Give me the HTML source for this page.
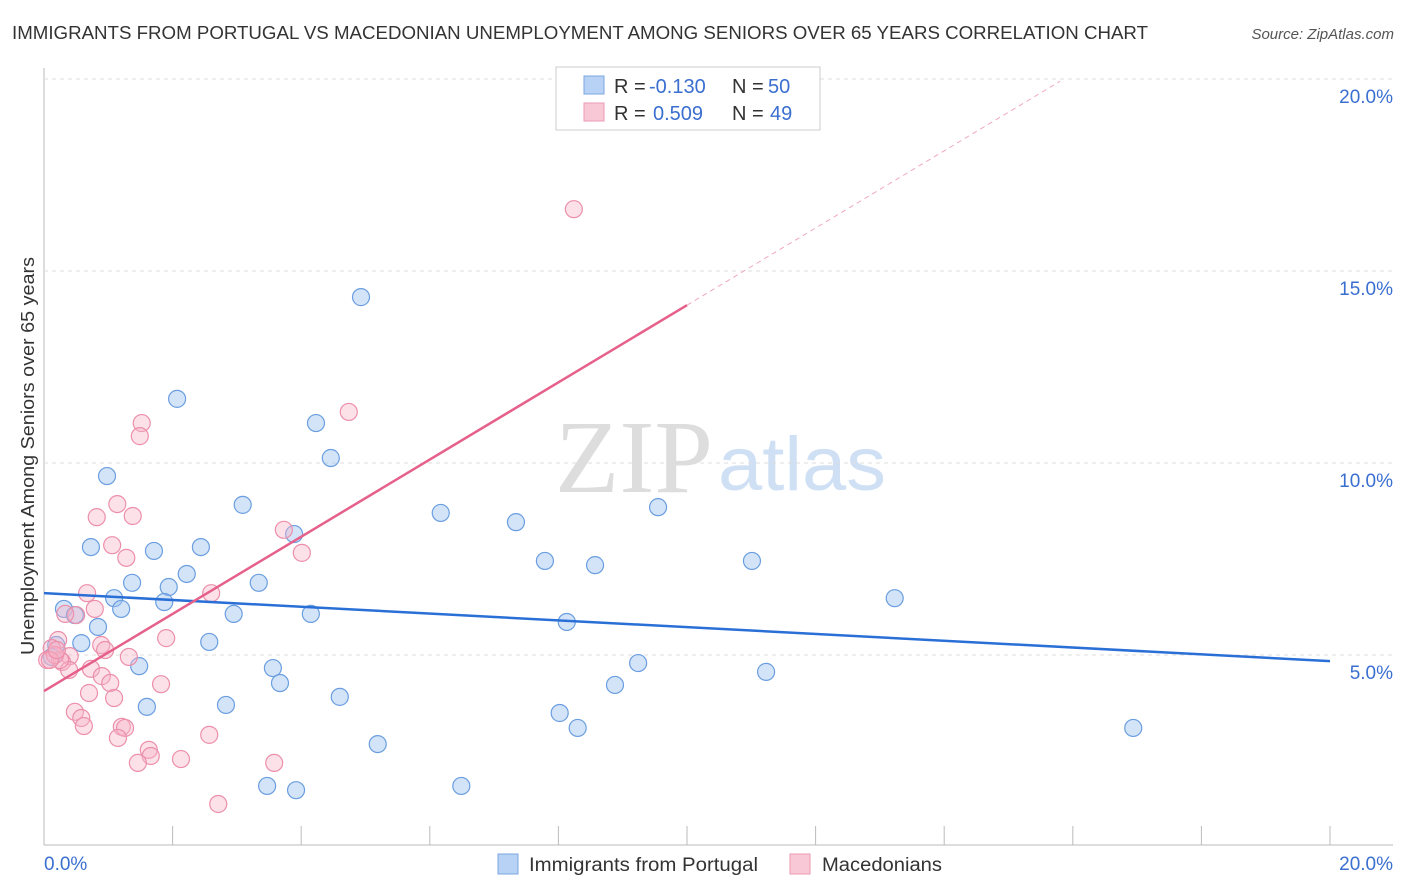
<!DOCTYPE html>
<html><head><meta charset="utf-8"><style>
body{margin:0;background:#fff;width:1406px;height:892px;overflow:hidden;font-family:"Liberation Sans",sans-serif}
svg{position:absolute;left:0;top:0}
</style></head><body>
<svg id="c" width="1406" height="892">
<text x="12" y="39" font-size="18" fill="#333" textLength="1136" lengthAdjust="spacingAndGlyphs">IMMIGRANTS FROM PORTUGAL VS MACEDONIAN UNEMPLOYMENT AMONG SENIORS OVER 65 YEARS CORRELATION CHART</text>
<text x="1394" y="39" font-size="15" fill="#555" font-style="italic" text-anchor="end">Source: ZipAtlas.com</text>
<text x="555" y="492" font-size="104" fill="#ddd" font-family="Liberation Serif,serif" textLength="158" lengthAdjust="spacingAndGlyphs">ZIP</text>
<text x="718" y="490" font-size="76" fill="#cfe0f5" textLength="168" lengthAdjust="spacingAndGlyphs">atlas</text>
<text transform="translate(34,456) rotate(-90)" font-size="18" fill="#333" text-anchor="middle" textLength="398" lengthAdjust="spacingAndGlyphs">Unemployment Among Seniors over 65 years</text>
<g id="grid"></g><g id="marks"></g>
<g>
<rect x="556" y="67" width="264" height="63" fill="#fff" stroke="#ccc"/>
<rect x="584" y="76" width="20" height="18" fill="#b8d2f5" stroke="#7aa6e0"/>
<rect x="584" y="103" width="20" height="18" fill="#f9c8d7" stroke="#ec9ab2"/>
<text x="614" y="93" font-size="20" fill="#333">R =</text>
<text x="649" y="93" font-size="20" fill="#3a6fd0">-0.130</text>
<text x="732" y="93" font-size="20" fill="#333">N =</text>
<text x="768" y="93" font-size="20" fill="#3a6fd0">50</text>
<text x="614" y="120" font-size="20" fill="#333">R =</text>
<text x="653" y="120" font-size="20" fill="#3a6fd0">0.509</text>
<text x="732" y="120" font-size="20" fill="#333">N =</text>
<text x="770" y="120" font-size="20" fill="#3a6fd0">49</text>
</g>
<g>
<rect x="498" y="854" width="20" height="20" fill="#b8d2f5" stroke="#7aa6e0"/>
<text x="529" y="871" font-size="19" fill="#333" textLength="229" lengthAdjust="spacingAndGlyphs">Immigrants from Portugal</text>
<rect x="790" y="854" width="20" height="20" fill="#f9c8d7" stroke="#ec9ab2"/>
<text x="822" y="871" font-size="19" fill="#333" textLength="120" lengthAdjust="spacingAndGlyphs">Macedonians</text>
</g>
</svg>
<script>
const yTicks=[5,10,15,20];
const blueX=[4.93,2.07,4.23,4.46,0.98,3.09,6.17,7.34,9.55,0.73,2.44,1.71,3.89,7.79,8.57,11.01,2.22,1.37,3.34,1.94,1.09,1.87,0.31,1.20,0.48,2.95,4.15,13.23,8.13,0.84,0.58,2.57,0.19,1.48,3.56,9.24,11.23,3.67,8.88,1.60,2.83,4.60,8.02,8.30,16.94,5.19,3.47,3.92,6.49,0.12];
const blueY=[14.32,11.67,11.04,10.13,9.66,8.91,8.70,8.46,8.85,7.81,7.81,7.71,8.15,7.45,7.34,7.45,7.11,6.88,6.88,6.77,6.48,6.38,6.20,6.20,6.04,6.07,6.07,6.48,5.86,5.73,5.31,5.34,5.26,4.71,4.66,4.79,4.56,4.27,4.22,3.65,3.70,3.91,3.49,3.10,3.10,2.68,1.59,1.48,1.59,4.95];
const pinkX=[8.24,4.74,1.52,1.49,1.14,0.82,1.38,3.73,1.06,4.01,1.28,0.67,2.60,0.79,0.50,1.90,0.22,0.89,0.95,1.32,0.40,0.12,0.05,0.28,0.73,0.39,0.90,1.03,1.82,0.70,1.09,0.48,0.58,0.62,1.21,1.26,1.15,2.57,1.63,1.66,2.13,1.46,3.58,2.71,0.33,0.25,0.17,0.09,0.20];
const pinkY=[16.61,11.33,11.04,10.70,8.93,8.59,8.62,8.26,7.86,7.66,7.53,6.61,6.61,6.20,6.04,5.44,5.39,5.26,5.13,4.95,4.97,5.18,4.87,4.82,4.64,4.61,4.45,4.27,4.24,4.01,3.88,3.52,3.36,3.15,3.13,3.10,2.84,2.92,2.53,2.37,2.29,2.19,2.19,1.12,6.07,4.87,5.00,4.87,5.13];
const blueLine=[6.61,4.84];
const pinkLine=[4.06,1.005];
const sx=v=>44+v*64.3, sy=v=>847-v*38.4;
const NS='http://www.w3.org/2000/svg';
function mk(t,a,p){const e=document.createElementNS(NS,t);for(const k in a)e.setAttribute(k,a[k]);p.appendChild(e);return e;}
const g=document.getElementById('grid'),m=document.getElementById('marks');
let l=mk('line',{x1:44,y1:845,x2:1393,y2:845,stroke:'#bbb'},g);


l=mk('line',{x1:44,y1:68,x2:44,y2:845,stroke:'#bbb'},g);


for(let i=1;i<=10;i++){const t=mk('line',{x1:sx(i*2),y1:826,x2:sx(i*2),y2:845,stroke:'#bbb'},g);

}
yTicks.forEach(v=>{const gl=mk('line',{x1:44,y1:sy(v),x2:1393,y2:sy(v),stroke:'#ddd','stroke-dasharray':'4,4'},g);


const t=mk('text',{x:1393,y:sy(v)+24,'font-size':19,fill:'#3a6fd0','text-anchor':'end'},g);t.textContent=v.toFixed(1)+'%';

});
let tx=mk('text',{x:44,y:870,'font-size':19,fill:'#3a6fd0'},g);tx.textContent='0.0%';


tx=mk('text',{x:1393,y:870,'font-size':19,fill:'#3a6fd0','text-anchor':'end'},g);tx.textContent='20.0%';


blueX.forEach((x,i)=>{const c=mk('circle',{cx:sx(x),cy:sy(blueY[i]),r:8.5,fill:'rgba(160,196,240,0.45)',stroke:'#6a9ee0','stroke-width':1.2},m);

});
pinkX.forEach((x,i)=>{const c=mk('circle',{cx:sx(x),cy:sy(pinkY[i]),r:8.5,fill:'rgba(248,180,200,0.4)',stroke:'#ec8fab','stroke-width':1.2},m);

});
l=mk('line',{x1:sx(0),y1:sy(blueLine[0]),x2:sx(20),y2:sy(blueLine[1]),stroke:'#2a6fd6','stroke-width':2.5},m);


l=mk('line',{x1:sx(0),y1:sy(pinkLine[0]),x2:sx(10),y2:sy(pinkLine[0]+pinkLine[1]*10),stroke:'#e5608a','stroke-width':2.5},m);


l=mk('line',{x1:sx(10),y1:sy(pinkLine[0]+pinkLine[1]*10),x2:sx(15.8),y2:sy(pinkLine[0]+pinkLine[1]*15.8),stroke:'#f0a8be','stroke-width':1,'stroke-dasharray':'5,4'},m);


</script>
</body></html>
